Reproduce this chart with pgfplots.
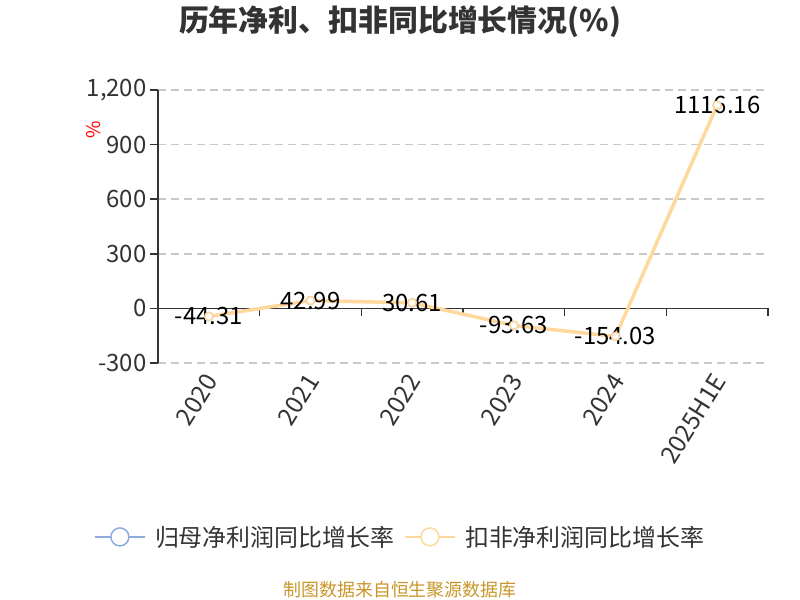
\documentclass[border=0pt]{standalone}
\usepackage{pgfplots}
\pgfplotsset{compat=1.18}
\usepackage{pgfplotstable}
\usepackage{fontspec}
\setmainfont{Noto Sans CJK SC}
\definecolor{blueL}{RGB}{140,172,222}
\definecolor{orangeL}{RGB}{255,216,158}
\definecolor{txt}{RGB}{51,51,51}
\definecolor{gridc}{RGB}{200,200,200}
\definecolor{src}{RGB}{200,150,40}

\pgfplotstableread{
x y lab
0 -44.31 -44.31
1 42.99 42.99
2 30.61 30.61
3 -93.63 -93.63
4 -154.03 -154.03
5 1116.16 1116.16
}\kf

\pgfplotstableread{
x y
0 -44.31
1 42.99
2 30.61
3 -93.63
4 -154.03
5 1116.16
}\gm

\begin{document}
\begin{tikzpicture}
\path[use as bounding box] (0bp,0bp) rectangle (800bp,600bp);
\begin{axis}[
  at={(158bp,237bp)}, anchor=south west,
  scale only axis, width=610bp, height=273bp,
  xmin=-0.5, xmax=5.5, ymin=-300, ymax=1200,
  axis x line*=bottom, axis y line*=left,
  x axis line style={draw=none},
  y axis line style={draw=txt, line width=1.5bp},
  xtick={0,...,5}, xticklabels={2020,2021,2022,2023,2024,2025H1E},
  xtick style={draw=none},
  xticklabel style={rotate=58, anchor=east, yshift=-5bp, font=\fontsize{24.5}{26}\selectfont, text=txt},
  ytick={-300,0,300,600,900,1200},
  yticklabel style={font=\fontsize{24}{26}\selectfont, text=txt},
  /pgf/number format/assume math mode=true,
  /pgf/number format/1000 sep={,},
  ytick style={draw=txt, line width=1.5bp},
  tick align=outside, major tick length=8bp,
  ymajorgrids,
  grid style={gridc, line width=1.5bp, dash pattern=on 8bp off 5bp},
  clip=false,
  legend columns=2,
  legend style={at={(0.397,-0.637)}, anchor=center, draw=none, fill=none,
    font=\fontsize{24}{26}\selectfont, text=txt,
    /tikz/every even column/.append style={column sep=8bp}},
  legend cell align=left,
]
\addlegendimage{legend image code/.code={\draw[blueL, line width=1.5bp] (0bp,0bp) -- (50bp,0bp); \draw[blueL, line width=1.5bp, fill=white] (25bp,0bp) circle (9bp); \path (58bp,0bp);}}
\addlegendentry{归母净利润同比增长率}
\addlegendimage{legend image code/.code={\draw[orangeL, line width=1.5bp] (0bp,0bp) -- (50bp,0bp); \draw[orangeL, line width=1.5bp, fill=white] (25bp,0bp) circle (9bp); \path (58bp,0bp);}}
\addlegendentry{扣非净利润同比增长率}

\draw[txt, line width=1.5bp] (axis cs:-0.5,0) -- (axis cs:5.5,0);
\pgfplotsinvokeforeach{-0.5,0.5,1.5,2.5,3.5,4.5,5.5}{
  \draw[txt, line width=1.5bp] (axis cs:#1,0) -- ([yshift=-8bp]axis cs:#1,0);
}

\addplot[draw=none, forget plot, nodes near coords, point meta=explicit symbolic,
  every node near coord/.style={anchor=center, font=\fontsize{24}{26}\selectfont, text=black}]
  table[x=x, y=y, meta=lab] {\kf};
\addplot[blueL, line width=2bp, forget plot, mark=*, mark size=4bp, mark options={fill=white, line width=1.5bp}] table[x=x,y=y] {\gm};
\addplot[orangeL, line width=3.5bp, forget plot, mark=*, mark size=4bp, mark options={fill=white, line width=1.5bp}] table[x=x,y=y] {\kf};
\end{axis}
\node[font=\bfseries\fontsize{30}{33}\selectfont, text=txt] at (400bp,578bp) {历年净利、扣非同比增长情况(\%)};
\node[font=\fontsize{19}{21}\selectfont, text=red, rotate=90] at (94bp,470bp) {\%};
\node[font=\fontsize{18}{20}\selectfont, text=src] at (400bp,10bp) {制图数据来自恒生聚源数据库};
\end{tikzpicture}
\end{document}
